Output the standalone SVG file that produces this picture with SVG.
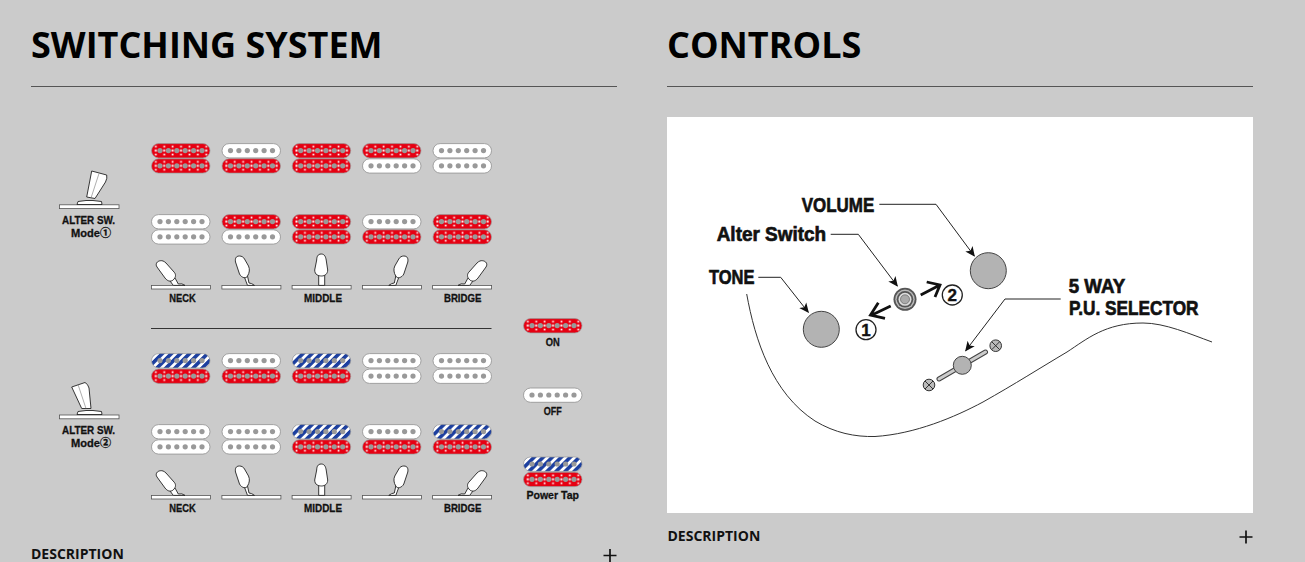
<svg xmlns="http://www.w3.org/2000/svg" width="1305" height="562" viewBox="0 0 1305 562">
<style>
.h{font:700 36px "Open Sans",sans-serif;fill:#000}
.d{font:700 14px "Open Sans",sans-serif;fill:#111}
.rule{stroke:#555;stroke-width:1}
.l{font:700 11.5px "Liberation Sans",sans-serif;fill:#111;stroke:#111;stroke-width:.3;text-anchor:middle}
.b{font:700 21px "Liberation Sans",sans-serif;fill:#111;stroke:#111;stroke-width:.7}
.n{font:700 17px "Liberation Sans",sans-serif;fill:#111;stroke:#111;stroke-width:.4;text-anchor:middle}
.lead{fill:none;stroke:#222;stroke-width:1}
.tog{fill:#fff;stroke:#222;stroke-width:.9;stroke-linejoin:round}
.base{fill:#fff;stroke:#555;stroke-width:.8}
.knob{fill:#b3b3b3;stroke:#444;stroke-width:1}
</style>
<defs>
<pattern id="pr" patternUnits="userSpaceOnUse" x="0.6" y="0" width="8.4" height="14.6">
<rect width="8.4" height="14.6" fill="#e60012"/>
<rect x="3.200" y="6.300" width="2" height="2" fill="#fff"/>
<rect x="3.400" y="2.500" width="1.700" height="1.700" fill="#fff"/>
<rect x="3.400" y="10.400" width="1.700" height="1.700" fill="#fff"/>
</pattern>
<pattern id="pb" patternUnits="userSpaceOnUse" width="6.4" height="6.4" patternTransform="rotate(45)">
<rect width="6.4" height="6.4" fill="#fff"/><rect width="3.6" height="6.4" fill="#1c3f9f"/>
</pattern>
<g id="poles" fill="#999"><circle cx="9" cy="7.3" r="2.6"/><circle cx="17.4" cy="7.3" r="2.6"/><circle cx="25.8" cy="7.3" r="2.6"/><circle cx="34.2" cy="7.3" r="2.6"/><circle cx="42.6" cy="7.3" r="2.6"/><circle cx="51" cy="7.3" r="2.6"/></g>
<g id="W"><rect x=".5" y=".3" width="58.5" height="14.3" rx="7.1" fill="#fff" stroke="#999" stroke-width=".9"/><use href="#poles"/></g>
<g id="R"><rect x=".5" y=".3" width="58.5" height="14.3" rx="7.1" fill="url(#pr)" stroke="#999" stroke-width=".7"/><use href="#poles"/></g>
<g id="B"><rect x=".5" y=".3" width="58.5" height="14.3" rx="7.1" fill="url(#pb)" stroke="#999" stroke-width=".7"/><use href="#poles"/></g>
<rect id="tb" class="base" x=".4" y=".4" width="59" height="3.6"/>
<g id="t1"><use href="#tb"/><path class="tog" d="M18.300 -5L22.300 .4H34Q31 -2 27.300 -1L24 -7Z"/><path class="tog" d="M9.700 -24.300C6 -24 4 -21 6 -18L14 -7C17 -3 21 -3 23 -6C25 -8 25 -11 23 -13L15 -22C13 -24 11 -24.500 9.700 -24.300Z"/></g>
<g id="t2"><use href="#tb"/><path class="tog" d="M22.500 -9L26 .4H33Q30 -2 27.500 -2L26 -9Z"/><path class="tog" d="M18 -29C14 -29 13.500 -26 14 -23L18 -11C20 -7 25 -6 26 -9C28 -12 28.500 -16 27 -19L23 -26C22 -28 20 -29 18 -29Z"/></g>
<g id="t3"><use href="#tb"/><path class="tog" d="M27 -10V.4H33V-10Z"/><path class="tog" d="M29.500 -31C26 -31 25 -28 25 -25L23 -15C23 -10 27 -9 30 -9C33 -9 36 -11 36 -15L34.500 -25C34 -28 33 -31 29.500 -31Z"/></g>
<marker id="ah" viewBox="0 0 10 10" refX="9" refY="5" markerWidth="10" markerHeight="10" markerUnits="userSpaceOnUse" orient="auto"><path d="M0 .5L10 5L0 9.500L2.500 5Z" fill="#111"/></marker>
</defs>
<rect width="1305" height="562" fill="#cbcbcb"/>
<g id="heading-switching"><text class="h" x="31" y="58">SWITCHING SYSTEM</text><path class="rule" d="M31 86.500H617"/></g>
<g id="heading-controls"><text class="h" x="667" y="58">CONTROLS</text><path class="rule" d="M667 86.500H1253"/></g>

<g id="alter-mode1">
<rect class="base" x="59.500" y="204.800" width="59.500" height="3.800"/>
<path class="tog" d="M77 204.500L78 201.500L86 200.500H93L101.500 201.500L102 204.500Z"/>
<path class="tog" d="M91.700 171L106.700 175Q107.500 178 105.500 182L95 198.500L86.700 197Z"/>
<path d="M99 173.500L91 198" stroke="#777" stroke-width=".6" fill="none"/>
<text class="l" x="88.500" y="224" textLength="53" lengthAdjust="spacingAndGlyphs">ALTER SW.</text>
<text class="l" x="91" y="237" textLength="40" lengthAdjust="spacingAndGlyphs" style="font-family:'Liberation Sans','Noto Sans CJK JP',sans-serif">Mode①</text>
</g>
<g id="alter-mode2">
<rect class="base" x="59.500" y="415" width="59.500" height="3.800"/>
<path class="tog" d="M77 414.500L78 411.500L86 410.500H93L101.500 411.500L102 414.500Z"/>
<path class="tog" d="M71.700 387L85 382.500Q88 384 89 388L91 408.500L81.700 408.500Z"/>
<path d="M78 384.500L86 408.500" stroke="#777" stroke-width=".6" fill="none"/>
<text class="l" x="88.500" y="434" textLength="53" lengthAdjust="spacingAndGlyphs">ALTER SW.</text>
<text class="l" x="91" y="447" textLength="40" lengthAdjust="spacingAndGlyphs" style="font-family:'Liberation Sans','Noto Sans CJK JP',sans-serif">Mode②</text>
</g>

<g id="pickups-row1">
<use href="#R" x="151" y="143.300"/><use href="#R" x="151" y="158.500"/>
<use href="#W" x="221.500" y="143.300"/><use href="#R" x="221.500" y="158.500"/>
<use href="#R" x="291.700" y="143.300"/><use href="#R" x="291.700" y="158.500"/>
<use href="#R" x="362" y="143.300"/><use href="#W" x="362" y="158.500"/>
<use href="#W" x="432.500" y="143.300"/><use href="#W" x="432.500" y="158.500"/>
</g>
<g id="pickups-row2">
<use href="#W" x="151" y="214.300"/><use href="#W" x="151" y="229.500"/>
<use href="#R" x="221.500" y="214.300"/><use href="#W" x="221.500" y="229.500"/>
<use href="#R" x="291.700" y="214.300"/><use href="#R" x="291.700" y="229.500"/>
<use href="#W" x="362" y="214.300"/><use href="#R" x="362" y="229.500"/>
<use href="#R" x="432.500" y="214.300"/><use href="#R" x="432.500" y="229.500"/>
</g>
<g id="selector-row1">
<use href="#t1" x="151" y="285"/><use href="#t2" x="221.500" y="285"/><use href="#t3" x="291.700" y="285"/>
<use href="#t2" transform="translate(421.800 285) scale(-1 1)"/><use href="#t1" transform="translate(492 285) scale(-1 1)"/>
<text class="l" x="182.500" y="302.300" textLength="26.500" lengthAdjust="spacingAndGlyphs">NECK</text>
<text class="l" x="323" y="302.300" textLength="38" lengthAdjust="spacingAndGlyphs">MIDDLE</text>
<text class="l" x="462.700" y="302.300" textLength="37.500" lengthAdjust="spacingAndGlyphs">BRIDGE</text>
</g>
<path id="divider" d="M151 328.500H491.500" stroke="#333" stroke-width="1" fill="none"/>
<g id="pickups-row3">
<use href="#B" x="151" y="353.300"/><use href="#R" x="151" y="368.800"/>
<use href="#W" x="221.500" y="353.300"/><use href="#R" x="221.500" y="368.800"/>
<use href="#B" x="291.700" y="353.300"/><use href="#R" x="291.700" y="368.800"/>
<use href="#W" x="362" y="353.300"/><use href="#W" x="362" y="368.800"/>
<use href="#W" x="432.500" y="353.300"/><use href="#W" x="432.500" y="368.800"/>
</g>
<g id="pickups-row4">
<use href="#W" x="151" y="424.300"/><use href="#W" x="151" y="439.500"/>
<use href="#W" x="221.500" y="424.300"/><use href="#W" x="221.500" y="439.500"/>
<use href="#B" x="291.700" y="424.300"/><use href="#R" x="291.700" y="439.500"/>
<use href="#W" x="362" y="424.300"/><use href="#R" x="362" y="439.500"/>
<use href="#B" x="432.500" y="424.300"/><use href="#R" x="432.500" y="439.500"/>
</g>
<g id="selector-row2">
<use href="#t1" x="151" y="495"/><use href="#t2" x="221.500" y="495"/><use href="#t3" x="291.700" y="495"/>
<use href="#t2" transform="translate(421.800 495) scale(-1 1)"/><use href="#t1" transform="translate(492 495) scale(-1 1)"/>
<text class="l" x="182.500" y="512.300" textLength="26.500" lengthAdjust="spacingAndGlyphs">NECK</text>
<text class="l" x="323" y="512.300" textLength="38" lengthAdjust="spacingAndGlyphs">MIDDLE</text>
<text class="l" x="462.700" y="512.300" textLength="37.500" lengthAdjust="spacingAndGlyphs">BRIDGE</text>
</g>
<g id="legend-on"><use href="#R" x="523" y="318.300"/><text class="l" x="552.700" y="346" textLength="14" lengthAdjust="spacingAndGlyphs">ON</text></g>
<g id="legend-off"><use href="#W" x="523" y="387.700"/><text class="l" x="552.700" y="415" textLength="18" lengthAdjust="spacingAndGlyphs">OFF</text></g>
<g id="legend-tap"><use href="#B" x="523" y="456.700"/><use href="#R" x="523" y="472"/><text class="l" x="552.700" y="499" textLength="52.500" lengthAdjust="spacingAndGlyphs">Power Tap</text></g>

<g id="desc-left"><text class="d" x="31" y="559">DESCRIPTION</text><path d="M610 549V562M603.500 555.500H616.500" stroke="#111" stroke-width="1.700" fill="none"/></g>
<g id="desc-right"><text class="d" x="667.500" y="541">DESCRIPTION</text><path d="M1246 530.500V543.500M1239.500 537H1252.500" stroke="#111" stroke-width="1.700" fill="none"/></g>

<rect id="panel" x="667" y="117" width="586" height="396" fill="#fff"/>
<path id="body-outline" d="M746.700 294C755 340 772 393 815 421C835 433 855 437 875 436.500C915 434 955 417 983 402C1015 384 1040 368 1067 352C1087 339 1105 323 1143 323C1165 323 1190 334 1212 342" fill="none" stroke="#333" stroke-width="1"/>
<g id="connectors">
<path class="lead" marker-end="url(#ah)" d="M879.300 204.300H936L974.300 256"/>
<path class="lead" marker-end="url(#ah)" d="M830.700 234.300H858.300L897.300 286"/>
<path class="lead" marker-end="url(#ah)" d="M758.300 277.300H780.700L808.300 312.300"/>
<path class="lead" marker-end="url(#ah)" d="M1060.700 299H1005L965.700 350.700"/>
<path d="M920.700 295L938 286M926.700 282L940 285L935 297" fill="none" stroke="#111" stroke-width="2.800"/>
<path d="M890.700 306L873 314.500M878.300 302.700L870.500 315L885 318.300" fill="none" stroke="#111" stroke-width="2.800"/>
</g>
<g id="volume"><circle class="knob" cx="988.300" cy="270.700" r="18"/><text class="b" x="801.700" y="212.300" textLength="72.500" lengthAdjust="spacingAndGlyphs">VOLUME</text></g>
<g id="alter-switch"><circle cx="905" cy="299.300" r="11.500" fill="#555"/><circle cx="905" cy="299.300" r="9.700" fill="#bbb"/><circle cx="905" cy="299.300" r="8.300" fill="#555"/><circle cx="905" cy="299.300" r="6.500" fill="#ddd"/><circle cx="905" cy="299.300" r="4.500" fill="#aaa" stroke="#666" stroke-width=".7"/><text class="b" x="716.700" y="241" textLength="109.500" lengthAdjust="spacingAndGlyphs">Alter Switch</text></g>
<g id="tone"><circle class="knob" cx="821.300" cy="329.300" r="18"/><text class="b" x="709" y="284" textLength="45.500" lengthAdjust="spacingAndGlyphs">TONE</text></g>
<g id="pos1"><circle cx="866" cy="329.700" r="10" fill="#fff" stroke="#222" stroke-width="1.300"/><text class="n" x="866" y="335.700">1</text></g>
<g id="pos2"><circle cx="952.300" cy="295" r="10" fill="#fff" stroke="#222" stroke-width="1.300"/><text class="n" x="952.300" y="301">2</text></g>
<g id="selector">
<path d="M939 379L985.500 352" stroke="#444" stroke-width="5" stroke-linecap="round"/><path d="M939 379L985.500 352" stroke="#ccc" stroke-width="3" stroke-linecap="round"/>
<circle class="knob" cx="962.300" cy="365.300" r="9"/>
<g fill="#bbb" stroke="#333"><circle cx="929" cy="385" r="5.800"/><circle cx="995.700" cy="345.700" r="5.800"/></g>
<path d="M925 381L933 389M933 381L925 389M991.700 341.700L999.700 349.700M999.700 341.700L991.700 349.700" stroke="#333"/>
<text class="b" x="1068.700" y="293.300" textLength="56.500" lengthAdjust="spacingAndGlyphs">5 WAY</text>
<text class="b" x="1069" y="315" textLength="129.500" lengthAdjust="spacingAndGlyphs">P.U. SELECTOR</text>
</g>
</svg>
